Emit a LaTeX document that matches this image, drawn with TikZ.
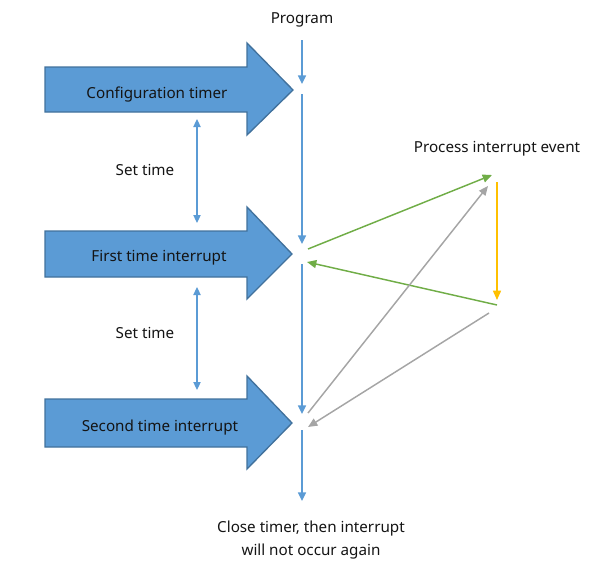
\documentclass[tikz,border=0pt]{standalone}
\usepackage{fontspec}
\setmainfont{Noto Sans}
\usetikzlibrary{arrows.meta}
\definecolor{blk}{HTML}{5B9BD5}
\definecolor{blkedge}{HTML}{41719C}
\definecolor{gr}{HTML}{70AD47}
\definecolor{gy}{HTML}{A5A5A5}
\definecolor{yl}{HTML}{FFC000}
\definecolor{txt}{HTML}{141414}
\tikzset{
  bigarrow/.style={fill=blk, draw=blkedge, line width=1pt, line join=miter},
  lbl/.style={font=\fontsize{11.4pt}{14pt}\selectfont, text=txt, inner sep=0pt},
  flow/.style={draw=blk, line width=1.1pt, -{Triangle[width=6pt,length=6.5pt]}},
  span/.style={draw=blk, line width=0.8pt, {Triangle[width=5.5pt,length=6pt]}-{Triangle[width=5.5pt,length=6pt]}},
  grn/.style={draw=gr, line width=1.1pt, -{Triangle[width=6pt,length=7pt]}},
  gry/.style={draw=gy, line width=1.1pt, -{Triangle[width=6pt,length=7pt]}},
  ylw/.style={draw=yl, line width=1.1pt, -{Triangle[width=6pt,length=7pt]}},
}
\begin{document}
\begin{tikzpicture}[x=0.75pt,y=-0.75pt]
\useasboundingbox (0,0) rectangle (599,586);
% block arrows
\draw[bigarrow] (45,67) -- (247,67) -- (247,43) -- (293,90) -- (247,135) -- (247,112) -- (45,112) -- cycle;
\draw[bigarrow] (45,231) -- (247,231) -- (247,207) -- (292,254) -- (247,299) -- (247,277) -- (45,277) -- cycle;
\draw[bigarrow] (45,399) -- (247,399) -- (247,376) -- (292,423) -- (247,469) -- (247,447) -- (45,447) -- cycle;
\node[lbl] (cfg) at (157,95) {Configuration timer};
\node[lbl] (first) at (159,258) {First time interrupt};
\node[lbl] (second) at (160,428) {Second time interrupt};
% labels
\node[lbl] (prog) at (302,20) {Program};
\node[lbl] (set1) at (145,170) {Set time};
\node[lbl] (set2) at (145,333) {Set time};
\node[lbl] (proc) at (497,149) {Process interrupt event};
\node[lbl, align=center] (close) at (311,540) {Close timer, then interrupt\\[3pt]will not occur again};
% coordinates on the timeline
\coordinate (t0) at (302,40);
\coordinate (t1) at (302,84);
\coordinate (t2) at (302,94);
\coordinate (t3) at (302,244);
\coordinate (t4) at (302,264);
\coordinate (t5) at (302,414);
\coordinate (t6) at (302,430);
\coordinate (t7) at (302,501);
\draw[flow] (t0) -- (t1);
\draw[flow] (t2) -- (t3);
\draw[flow] (t4) -- (t5);
\draw[flow] (t6) -- (t7);
% set time spans
\coordinate (s1a) at (197,119);
\coordinate (s1b) at (197,223);
\coordinate (s2a) at (197,287);
\coordinate (s2b) at (197,390);
\draw[span] (s1a) -- (s1b);
\draw[span] (s2a) -- (s2b);
% interrupt handling
\coordinate (i1) at (308,249);
\coordinate (i1r) at (307,262);
\coordinate (i2) at (308,413);
\coordinate (i2r) at (308,427);
\coordinate (pa) at (492,175);
\coordinate (pb) at (488,186);
\coordinate (py0) at (497,182);
\coordinate (py1) at (497,300);
\coordinate (pc) at (497,305);
\coordinate (pd) at (489,313);
\draw[grn] (i1) -- (pa);
\draw[ylw] (py0) -- (py1);
\draw[grn] (pc) -- (i1r);
\draw[gry] (i2) -- (pb);
\draw[gry] (pd) -- (i2r);
\end{tikzpicture}
\end{document}
